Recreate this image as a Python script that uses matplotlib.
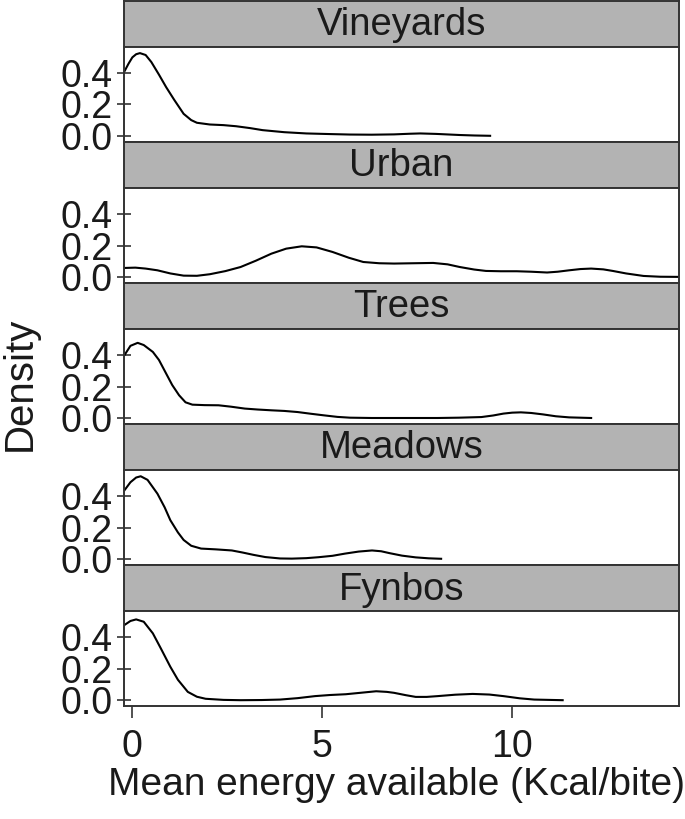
import matplotlib
matplotlib.use("Agg")
import matplotlib.pyplot as plt

plt.rcParams['font.family'] = ['Liberation Sans', 'DejaVu Sans']

habitats = ["Vineyards", "Urban", "Trees", "Meadows", "Fynbos"]

vineyards_x = [-0.21, -0.1, 0.0, 0.1, 0.2, 0.35, 0.5, 0.7, 0.89, 1.1, 1.35, 1.55, 1.7, 2.04, 2.4, 2.73,
               3.1, 3.43, 4.0, 4.58, 5.2, 5.73, 6.3, 6.89, 7.3, 7.58, 8.0, 8.62, 9.0, 9.42]
vineyards_y = [0.41, 0.46, 0.50, 0.52, 0.527, 0.515, 0.47, 0.39, 0.31, 0.23, 0.14, 0.10, 0.083, 0.072, 0.068,
               0.061, 0.049, 0.036, 0.023, 0.015, 0.011, 0.008, 0.007, 0.009, 0.013, 0.015, 0.012, 0.005,
               0.002, 0.0]

urban_x = [-0.21, 0.08, 0.35, 0.66, 1.0, 1.35, 1.7, 2.04, 2.45, 2.85, 3.25, 3.66, 4.05, 4.46, 4.85, 5.27,
           5.7, 6.08, 6.5, 6.89, 7.4, 7.92, 8.3, 8.62, 9.0, 9.31, 9.7, 10.12, 10.5, 10.92, 11.2, 11.5,
           11.8, 12.08, 12.4, 12.65, 13.0, 13.46, 13.9, 14.42]
urban_y = [0.057, 0.059, 0.053, 0.042, 0.022, 0.008, 0.007, 0.017, 0.037, 0.063, 0.103, 0.148, 0.18,
           0.195, 0.188, 0.159, 0.122, 0.095, 0.087, 0.085, 0.087, 0.089, 0.08, 0.063, 0.047, 0.038,
           0.036, 0.036, 0.033, 0.028, 0.033, 0.042, 0.05, 0.053, 0.048, 0.038, 0.022, 0.006, 0.001, 0.0]

trees_x = [-0.21, -0.05, 0.14, 0.3, 0.54, 0.7, 0.89, 1.05, 1.23, 1.4, 1.58, 1.9, 2.27, 2.6, 2.96, 3.3,
           3.66, 4.0, 4.35, 4.7, 5.04, 5.4, 5.73, 6.3, 6.89, 7.5, 8.04, 8.6, 9.19, 9.5, 9.77, 10.0,
           10.23, 10.5, 10.81, 11.15, 11.5, 12.08]
trees_y = [0.40, 0.46, 0.479, 0.465, 0.421, 0.37, 0.283, 0.21, 0.145, 0.10, 0.085, 0.082, 0.081, 0.072,
           0.06, 0.054, 0.049, 0.045, 0.038, 0.027, 0.017, 0.007, 0.002, 0.0, 0.0, 0.0, 0.0, 0.002,
           0.006, 0.016, 0.028, 0.034, 0.036, 0.032, 0.023, 0.011, 0.004, 0.0]

meadows_x = [-0.21, -0.05, 0.1, 0.22, 0.4, 0.66, 0.85, 1.0, 1.2, 1.35, 1.55, 1.81, 2.2, 2.62, 2.9, 3.19,
             3.5, 3.89, 4.2, 4.58, 4.9, 5.27, 5.6, 5.96, 6.31, 6.55, 6.77, 7.1, 7.46, 7.8, 8.13]
meadows_y = [0.438, 0.49, 0.52, 0.528, 0.505, 0.417, 0.33, 0.248, 0.17, 0.122, 0.085, 0.067, 0.062,
             0.055, 0.042, 0.027, 0.013, 0.004, 0.003, 0.006, 0.012, 0.021, 0.035, 0.048, 0.055, 0.05,
             0.038, 0.022, 0.011, 0.005, 0.002]

fynbos_x = [-0.21, -0.05, 0.1, 0.3, 0.54, 0.75, 1.0, 1.2, 1.46, 1.7, 1.93, 2.4, 2.85, 3.4, 3.89, 4.35,
            4.81, 5.2, 5.62, 6.0, 6.42, 6.7, 6.89, 7.2, 7.46, 7.75, 8.04, 8.5, 8.96, 9.4, 9.77, 10.2,
            10.58, 11.33]
fynbos_y = [0.479, 0.505, 0.515, 0.5, 0.426, 0.33, 0.213, 0.13, 0.053, 0.022, 0.009, 0.002, 0.0, 0.001,
            0.004, 0.013, 0.026, 0.033, 0.038, 0.047, 0.057, 0.053, 0.047, 0.032, 0.021, 0.021, 0.026,
            0.035, 0.04, 0.036, 0.026, 0.012, 0.004, 0.0]

series_x = [vineyards_x, urban_x, trees_x, meadows_x, fynbos_x]
series_y = [vineyards_y, urban_y, trees_y, meadows_y, fynbos_y]

y_ticks = [0.0, 0.2, 0.4]
y_ticklabels = ["0.0", "0.2", "0.4"]
x_ticks = [0, 5, 10]
x_ticklabels = ["0", "5", "10"]

W, H = 685, 819
fig = plt.figure(figsize=(W / 100, H / 100), dpi=100)

left_px, right_px = 124.0, 678.5
period = 141.1
strip_h = 46.5
edge = '#333333'
fs = 27

for i, name in enumerate(habitats):
    s_top = 0.5 + period * i
    s_bot = s_top + strip_h
    p_bot = 0.5 + period * (i + 1)
    # strip
    sax = fig.add_axes([left_px / W, 1 - s_bot / H, (right_px - left_px) / W, strip_h / H])
    sax.set_facecolor('#b3b3b3')
    sax.set_xticks([]); sax.set_yticks([])
    for sp in sax.spines.values():
        sp.set_color(edge); sp.set_linewidth(1.4)
    sax.text(0.5, 0.47, name, ha='center', va='center', fontsize=27.5, color='#1a1a1a',
             transform=sax.transAxes)
    # panel
    ax = fig.add_axes([left_px / W, 1 - p_bot / H, (right_px - left_px) / W, (p_bot - s_bot) / H])
    ax.plot(series_x[i], series_y[i], color='black', lw=1.5, solid_joinstyle='round')
    ax.set_xlim(-0.22, 14.38)
    ax.set_ylim(-0.037, 0.566)
    for sp in ax.spines.values():
        sp.set_color(edge); sp.set_linewidth(1.4)
    ax.set_yticks(y_ticks)
    ax.set_yticklabels(y_ticklabels)
    ax.tick_params(axis='y', direction='inout', length=10, width=1.2, color=edge,
                   labelsize=fs, pad=3, labelcolor='#1a1a1a')
    if i == len(habitats) - 1:
        ax.set_xticks(x_ticks)
        ax.set_xticklabels(x_ticklabels)
        ax.tick_params(axis='x', direction='out', length=8.6, width=1.2, color=edge,
                       labelsize=fs, pad=8, labelcolor='#1a1a1a')
    else:
        ax.set_xticks([])

fig.text(1.0 / W, 1 - 384 / H, "Density", rotation=90, ha='left', va='center',
         fontsize=29, color='#1a1a1a')
fig.text(396 / W, 1 - 795 / H, "Mean energy available (Kcal/bite)", ha='center', va='baseline',
         fontsize=28, color='#1a1a1a')

fig.savefig("out.png", dpi=100, facecolor='white')
